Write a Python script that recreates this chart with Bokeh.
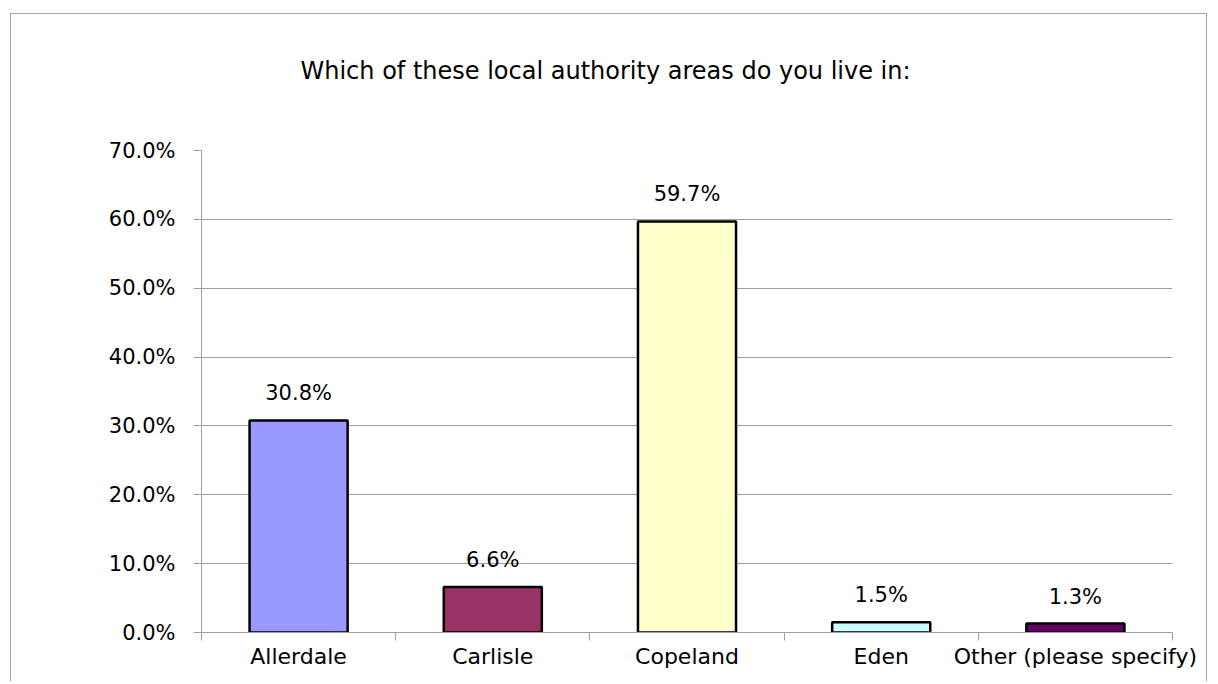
from bokeh.plotting import figure
from bokeh.models import ColumnDataSource, FixedTicker, NumeralTickFormatter, Range1d, Title
from bokeh.embed import file_html
from bokeh.resources import INLINE
from bokeh.core.properties import value

categories = ["Allerdale", "Carlisle", "Copeland", "Eden", "Other (please specify)"]
values = [0.308, 0.066, 0.597, 0.015, 0.013]
labels = ["30.8%", "6.6%", "59.7%", "1.5%", "1.3%"]
colors = ["#9999FF", "#993366", "#FFFFCC", "#CCFFFF", "#660066"]
y_ticks = [0.0, 0.1, 0.2, 0.3, 0.4, 0.5, 0.6, 0.7]
title_text = "Which of these local authority areas do you live in:"

FONT = "DejaVu Sans"
xs = [i + 0.5 for i in range(len(categories))]
src = ColumnDataSource(dict(x=xs, top=values, color=colors, label=labels))

p = figure(width=1197, height=668, output_backend="svg", toolbar_location=None,
           x_range=Range1d(0, len(categories)), y_range=Range1d(0, 0.7),
           min_border_left=190, min_border_right=36, min_border_top=136, min_border_bottom=50)
p.styles = {"margin-left": "10px", "margin-top": "13px",
            "border-top": "1px solid #A6A6A6", "border-left": "1px solid #A6A6A6",
            "border-right": "1px solid #A6A6A6"}
p.outline_line_color = None

# spacer (closest to the frame) then the real title above it
spacer = Title(text=" ", text_font=FONT, text_font_size="24px", standoff=26)
p.add_layout(spacer, "above")
main_title = Title(text=title_text, text_font=FONT, text_font_size="24px",
                   text_font_style="normal", text_color="black", align="left",
                   offset=99, standoff=20)
p.add_layout(main_title, "above")

p.vbar(x="x", top="top", width=0.505, bottom=0, fill_color="color", line_color="black",
       line_width=2.5, source=src)
p.text(x="x", y="top", text="label", source=src, text_align="center", text_baseline="bottom",
       y_offset=-15, text_font=value(FONT), text_font_size="21px", text_color="black")

# x axis
p.xaxis.ticker = FixedTicker(ticks=xs, minor_ticks=list(range(len(categories) + 1)))
p.xaxis.major_label_overrides = {x: c for x, c in zip(xs, categories)}
p.xaxis.major_tick_out = 0
p.xaxis.major_tick_in = 0
p.xaxis.minor_tick_out = 8
p.xaxis.minor_tick_in = 0
p.xaxis.minor_tick_line_color = "#A0A0A0"
p.xaxis.axis_line_color = "#A0A0A0"
p.xaxis.major_label_text_font = FONT
p.xaxis.major_label_text_font_size = "22px"
p.xaxis.major_label_text_color = "black"
p.xaxis.major_label_standoff = 3

# y axis
p.yaxis.ticker = FixedTicker(ticks=y_ticks)
p.yaxis.formatter = NumeralTickFormatter(format="0.0%")
p.yaxis.minor_tick_line_color = None
p.yaxis.major_tick_out = 8
p.yaxis.major_tick_in = 0
p.yaxis.major_tick_line_color = "#A0A0A0"
p.yaxis.axis_line_color = "#A0A0A0"
p.yaxis.major_label_text_font = FONT
p.yaxis.major_label_text_font_size = "21px"
p.yaxis.major_label_text_color = "black"
p.yaxis.major_label_standoff = 18

p.xgrid.grid_line_color = None
p.ygrid.grid_line_color = "#A0A0A0"
p.ygrid.ticker = FixedTicker(ticks=y_ticks)

open("out.html", "w").write(file_html(p, INLINE))
